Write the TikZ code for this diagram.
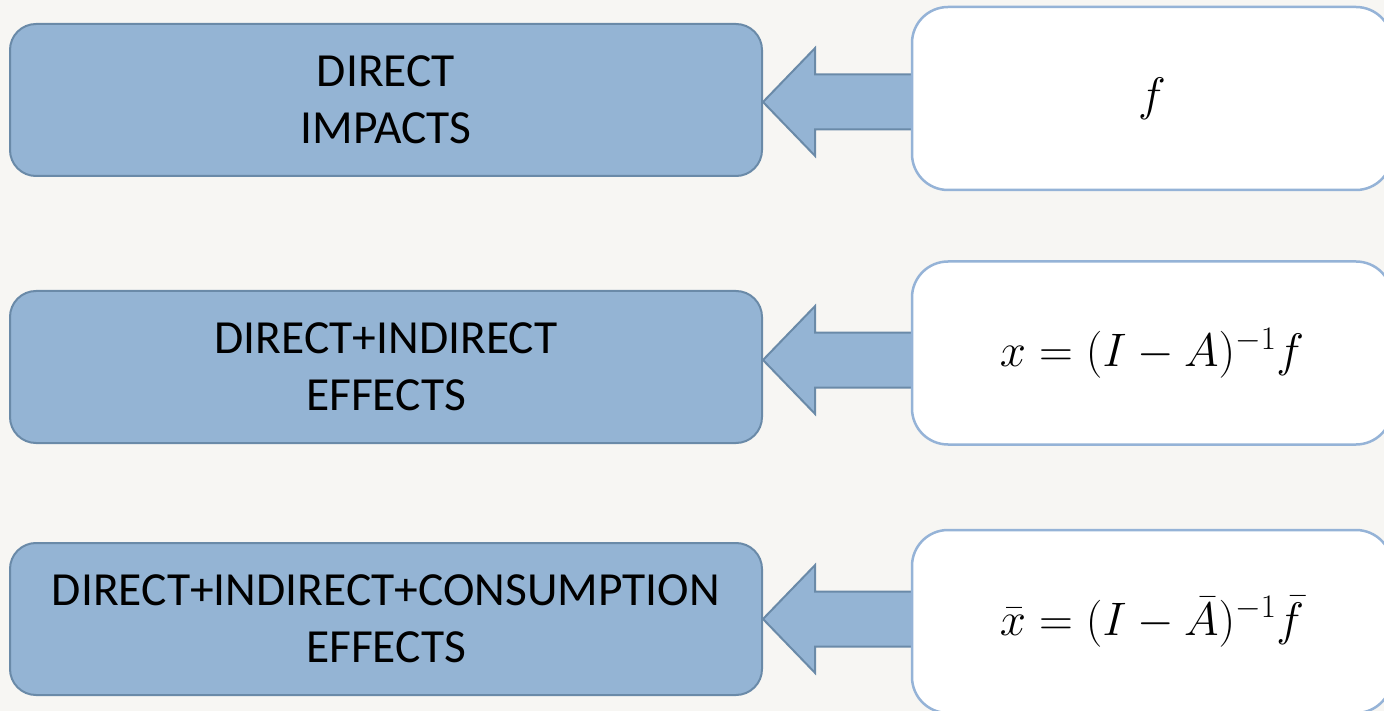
\RequirePackage{fix-cm}
\documentclass[tikz,border=0pt]{standalone}
\usepackage{fontspec}
\setmainfont{Carlito}
\usetikzlibrary{shapes.arrows,calc}
\definecolor{paper}{HTML}{F7F6F3}
\definecolor{boxfill}{HTML}{94B4D4}
\definecolor{boxline}{HTML}{6A8AA8}
\definecolor{eqline}{HTML}{95B3D7}
\tikzset{
  effect/.style={rectangle, rounded corners=26pt, draw=boxline, line width=2pt,
    fill=boxfill, minimum width=752pt, minimum height=152pt, align=center,
    font=\fontsize{47.5}{57}\selectfont, text=black, inner sep=0pt},
  formula/.style={rectangle, rounded corners=36pt, draw=eqline, line width=2.5pt,
    fill=white, minimum width=480pt, minimum height=183pt,
    font=\fontsize{47}{56}\selectfont, inner sep=0pt},
  feed/.style={single arrow, shape border rotate=180, draw=boxline, line width=2pt,
    fill=boxfill, minimum height=150pt, minimum width=106pt,
    inner xsep=0pt, inner ysep=26.5pt, outer sep=0pt,
    single arrow head extend=26.5pt, single arrow tip angle=92}
}
\begin{document}
\begin{tikzpicture}[x=1pt,y=-1pt]
  \useasboundingbox (0,0) rectangle (1384,711);
  \clip (0,0) rectangle (1384,711);
  \fill[paper] (0,0) rectangle (1384,711);

  % left column: kinds of effect
  \node[effect] (l1) at (386,100) {DIRECT\\IMPACTS};
  \node[effect] (l2) at (386,367) {DIRECT+INDIRECT\\EFFECTS};
  \node[effect] (l3) at (386,619) {DIRECT+INDIRECT+CONSUMPTION\\EFFECTS};

  % block arrows: tip on each effect box, tail under the expression box
  \foreach \i/\dy in {1/2,2/-7,3/0}{
    \coordinate (t\i) at ($(l\i.east)+(0,\dy)$);
    \node[feed, anchor=tip] (a\i) at (t\i) {};
  }

  % right column: the matching expressions
  \node[formula] (r1) at (1152,98.5) {$f$};
  \node[formula] (r2) at (1152,353) {$x=(I-A)^{-1}f$};
  \node[formula] (r3) at (1152,621.5) {$\bar{x}=(I-\bar{A})^{-1}\bar{f}$};
\end{tikzpicture}
\end{document}
